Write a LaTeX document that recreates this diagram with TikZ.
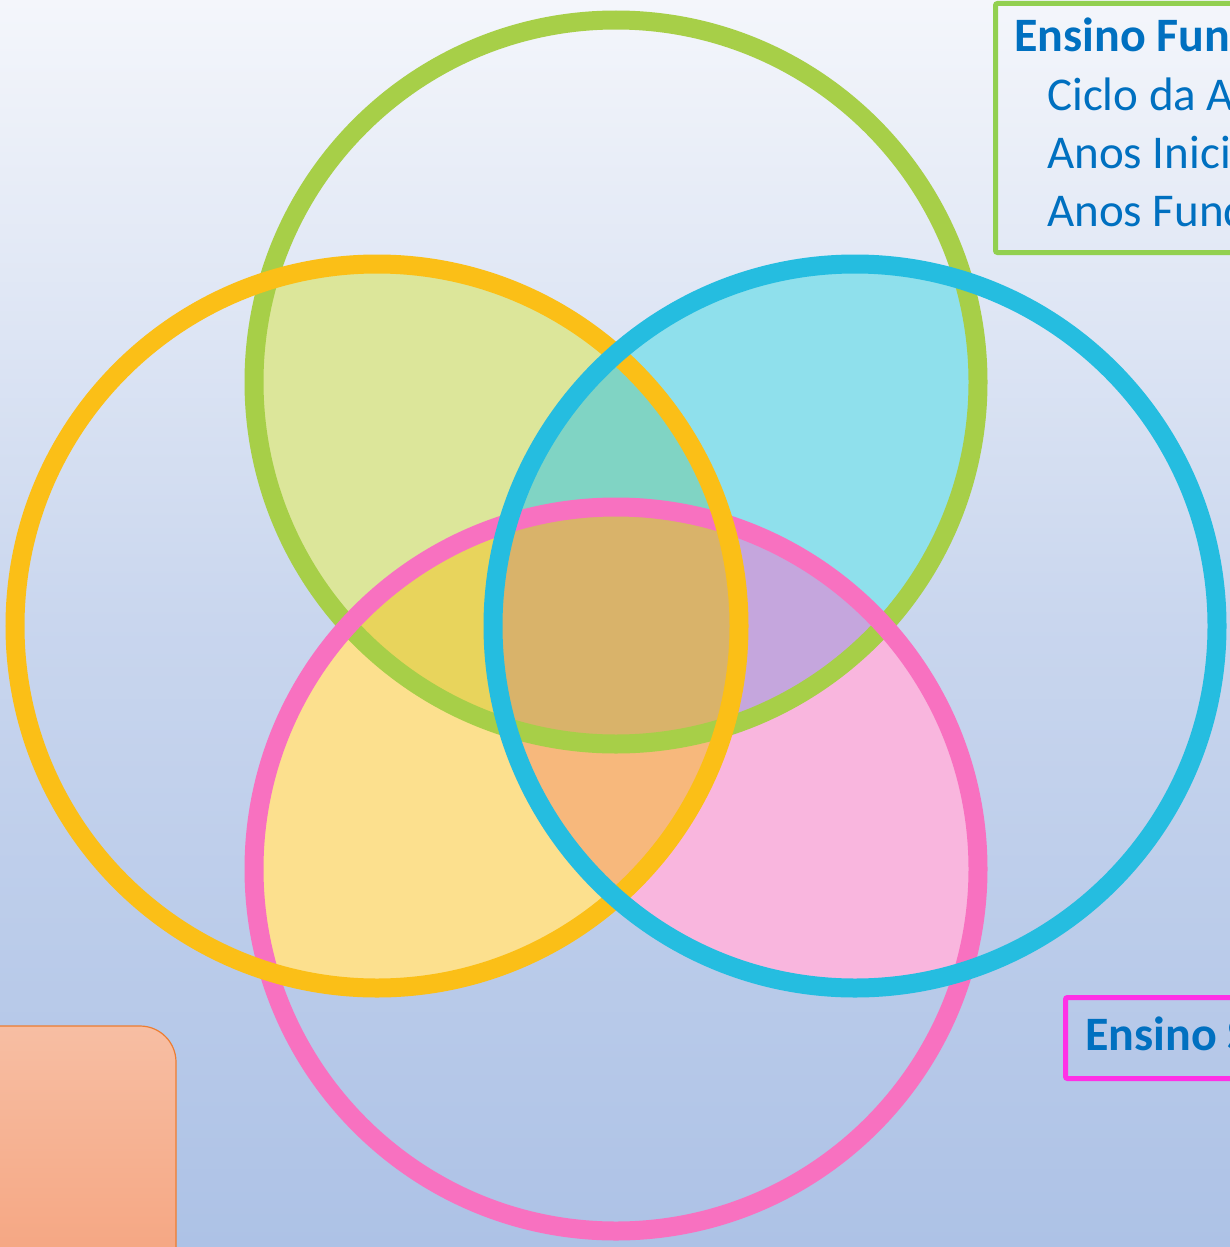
\documentclass[tikz,border=0pt]{standalone}
\usepackage{fontspec}
\setmainfont{Carlito}
\definecolor{bgtop}{HTML}{F4F6FB}
\definecolor{bgmid}{HTML}{C9D6EE}
\definecolor{bgbot}{HTML}{ADC2E6}
\definecolor{tblue}{HTML}{0070C0}
\definecolor{rgreen}{HTML}{A7CF48}
\definecolor{rorange}{HTML}{FBBF17}
\definecolor{rblue}{HTML}{25BDE0}
\definecolor{rpink}{HTML}{F871C0}
\definecolor{fGO}{HTML}{DCE69A}
\definecolor{fGB}{HTML}{8FE0EC}
\definecolor{fOP}{HTML}{FCE08E}
\definecolor{fBP}{HTML}{F9B6DE}
\definecolor{fGP}{HTML}{E4D468}
\definecolor{fOB}{HTML}{E8C070}
\definecolor{fGOB}{HTML}{80D4C4}
\definecolor{fGOP}{HTML}{E8D45C}
\definecolor{fGBP}{HTML}{C5A6DD}
\definecolor{fOBP}{HTML}{F7B87C}
\definecolor{fALL}{HTML}{D9B36A}
\definecolor{boxgreen}{HTML}{92D050}
\definecolor{boxpink}{HTML}{FF30E6}
\definecolor{peachtop}{HTML}{F7BEA3}
\definecolor{peachbot}{HTML}{F5A37E}
\definecolor{peachline}{HTML}{ED7D31}
\begin{document}
\begin{tikzpicture}[x=1pt,y=-1pt,
  ring/.style={line width=19pt},
  txt/.style={anchor=base west, inner sep=0pt, text=tblue, font=\fontsize{47}{56}\selectfont},
  btxt/.style={txt, font=\fontsize{48}{56}\selectfont\bfseries}]
\clip (0,0) rectangle (1230,1247);
\fill[top color=bgtop, bottom color=bgmid] (0,0) rectangle (1230,621);
\fill[top color=bgmid, bottom color=bgbot] (0,620) rectangle (1230,1247);

\coordinate (cg) at (616,382);
\coordinate (co) at (377,626);
\coordinate (cb) at (855,626);
\coordinate (cp) at (616,869);
\def\cG{(cg) circle[radius=362pt]}
\def\cO{(co) circle[radius=362pt]}
\def\cB{(cb) circle[radius=362pt]}
\def\cP{(cp) circle[radius=362pt]}

% pairwise
\begin{scope}\clip \cG; \fill[fGO] \cO; \end{scope}
\begin{scope}\clip \cG; \fill[fGB] \cB; \end{scope}
\begin{scope}\clip \cO; \fill[fOP] \cP; \end{scope}
\begin{scope}\clip \cB; \fill[fBP] \cP; \end{scope}
\begin{scope}\clip \cG; \fill[fGP] \cP; \end{scope}
\begin{scope}\clip \cO; \fill[fOB] \cB; \end{scope}
% triples
\begin{scope}\clip \cG; \clip \cO; \fill[fGOB] \cB; \end{scope}
\begin{scope}\clip \cG; \clip \cO; \fill[fGOP] \cP; \end{scope}
\begin{scope}\clip \cG; \clip \cB; \fill[fGBP] \cP; \end{scope}
\begin{scope}\clip \cO; \clip \cB; \fill[fOBP] \cP; \end{scope}
% all four
\begin{scope}\clip \cG; \clip \cO; \clip \cB; \fill[fALL] \cP; \end{scope}

% rings
\draw[ring, rgreen] \cG;
\draw[ring, rpink] \cP;
\draw[ring, rorange] \cO;
\draw[ring, rblue] \cB;

% top-right box
\node[draw=boxgreen, line width=5pt, rounded corners=2pt, minimum width=330pt, minimum height=249pt, anchor=north west, inner sep=0pt] (boxF) at (993,1) {};
\node[btxt] (t1) at (1014,52) {Ensino Fundamental};
\node[txt] (t2) at (1047,110) {Ciclo da Alfabetização};
\node[txt] (t3) at (1047,168) {Anos Iniciais};
\node[txt] (t4) at (1047,226) {Anos Fundamentais};

% pink box
\node[draw=boxpink, line width=5pt, rounded corners=2pt, minimum width=300pt, minimum height=81pt, anchor=north west, inner sep=0pt] (boxS) at (1063,995) {};
\node[btxt] (t5) at (1085,1050) {Ensino Superior};

% bottom-left box
\draw[peachline, line width=1.2pt, top color=peachtop, bottom color=peachbot, rounded corners=36pt] (-40,1026) rectangle (176,1290);
\node[inner sep=0pt] (peach) at (68,1150) {};
\end{tikzpicture}
\end{document}
